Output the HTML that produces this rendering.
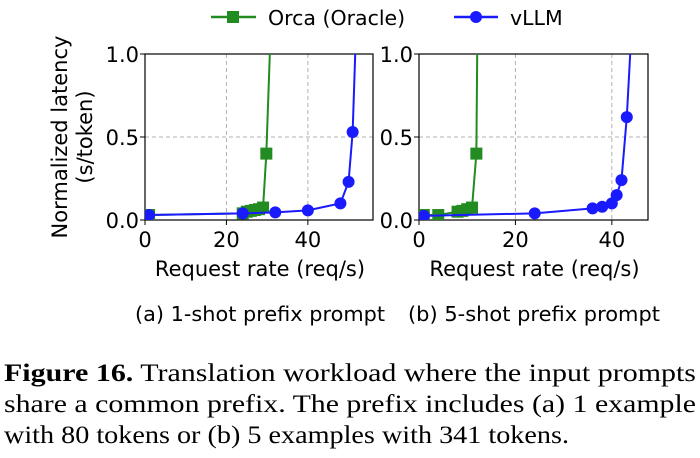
<!DOCTYPE html>
<html><head><meta charset="utf-8"><style>
html,body{margin:0;padding:0;background:#fff;}
svg{display:block;}
.t{font-family:"DejaVu Sans","Liberation Sans",sans-serif;fill:#000;}
.c{font-family:"Liberation Serif",serif;font-size:25px;fill:#000;}
</style></head><body>
<svg id="fig" width="700" height="458" viewBox="0 0 700 458">
<g>
  <g>
    <line x1="211" y1="17" x2="256" y2="17" stroke="#228B22" stroke-width="2.5"/>
    <rect x="227" y="11" width="12" height="12" fill="#228B22"/>
    <text class="t" x="268" y="25" font-size="20.5">Orca (Oracle)</text>
  </g>
  <g>
    <line x1="454" y1="17" x2="498" y2="17" stroke="#1a1aff" stroke-width="2.5"/>
    <circle cx="476" cy="17" r="6" fill="#1a1aff"/>
    <text class="t" x="510" y="25" font-size="20.5">vLLM</text>
  </g>
</g>
<g>
  <text class="t" font-size="21" text-anchor="middle" transform="translate(67,137) rotate(-90)">Normalized latency</text>
  <text class="t" font-size="21" text-anchor="middle" transform="translate(92,137) rotate(-90)">(s/token)</text>
</g>
<g id="pa"></g>
<g id="pb"></g>
<text class="t" x="135" y="321" font-size="20" textLength="250" lengthAdjust="spacingAndGlyphs">(a) 1-shot prefix prompt</text>
<text class="t" x="408" y="321" font-size="20" textLength="252" lengthAdjust="spacingAndGlyphs">(b) 5-shot prefix prompt</text>
<g>
  <text class="c" x="4" y="381" textLength="692" lengthAdjust="spacingAndGlyphs"><tspan font-weight="bold">Figure 16.</tspan> Translation workload where the input prompts</text>
  <text class="c" x="4" y="412" textLength="692" lengthAdjust="spacingAndGlyphs">share a common prefix. The prefix includes (a) 1 example</text>
  <text class="c" x="4" y="443" textLength="565" lengthAdjust="spacingAndGlyphs">with 80 tokens or (b) 5 examples with 341 tokens.</text>
</g>
</svg>
<script>
const xTicks = [0, 20, 40];
const yTicks = [0.0, 0.5, 1.0];
const yTickLabels = ["0.0", "0.5", "1.0"];
const orcaXA = [1, 24, 25, 26, 27, 28, 29, 29.8, 30.8];
const orcaYA = [0.03, 0.04, 0.05, 0.055, 0.06, 0.065, 0.075, 0.40, 1.1];
const vllmXA = [1, 24, 32, 40, 48, 50, 51, 51.7];
const vllmYA = [0.03, 0.04, 0.046, 0.058, 0.10, 0.23, 0.53, 1.05];
const orcaXB = [1, 4, 8, 9, 10, 11, 11.9, 12.1];
const orcaYB = [0.03, 0.03, 0.05, 0.055, 0.065, 0.075, 0.40, 1.1];
const vllmXB = [1, 24, 36, 38, 40, 41, 42, 43.1, 43.9];
const vllmYB = [0.025, 0.04, 0.07, 0.08, 0.10, 0.15, 0.24, 0.62, 1.05];
const NS = "http://www.w3.org/2000/svg";
function mk(tag, attrs, parent){const e=document.createElementNS(NS,tag);for(const k in attrs)e.setAttribute(k,attrs[k]);parent.appendChild(e);return e;}
function draw(g, id, left, right, xmax, ox, oy, vx, vy){
  const top=54, bottom=220;
  const X=v=>left+(v-0)/(xmax-0)*(right-left);
  const Y=v=>bottom-(v-0)/(1-0)*(bottom-top);
  const cp=mk('clipPath',{id:'clip'+id},g);
  mk('rect',{x:left,y:top,width:right-left,height:bottom-top},cp);
  xTicks.forEach(t=>{
    const l=mk('line',{x1:X(t),x2:X(t),y1:top,y2:bottom,stroke:'#b0b0b0','stroke-dasharray':'4,3','stroke-width':1},g);
    
    
    const tk=mk('line',{x1:X(t),x2:X(t),y1:bottom,y2:bottom+5,stroke:'#000'},g);
    
    
    const tx=mk('text',{x:X(t),y:bottom+27,'text-anchor':'middle','font-size':21,class:'t'},g);
    tx.textContent=t;
    
    
  });
  yTicks.forEach((t,i)=>{
    const l=mk('line',{x1:left,x2:right,y1:Y(t),y2:Y(t),stroke:'#b0b0b0','stroke-dasharray':'4,3','stroke-width':1},g);
    
    
    const tk=mk('line',{x1:left-5,x2:left,y1:Y(t),y2:Y(t),stroke:'#000'},g);
    
    
    const tx=mk('text',{x:left-6,y:Y(t)+8,'text-anchor':'end','font-size':21,class:'t'},g);
    tx.textContent=yTickLabels[i];
    
    
  });
  const fr=mk('rect',{x:left,y:top,width:right-left,height:bottom-top,fill:'none',stroke:'#000','stroke-width':1.2},g);
  
  
  const xl=mk('text',{x:(left+right)/2+1,y:bottom+56,'text-anchor':'middle','font-size':21,class:'t'},g);
  xl.textContent='Request rate (req/s)';
  
  
  const sg=mk('g',{'clip-path':'url(#clip'+id+')'},g);
  function series(xs,ys,color,shape,name){
    const pl=mk('polyline',{points:xs.map((x,i)=>X(x)+','+Y(ys[i])).join(' '),fill:'none',stroke:color,'stroke-width':2},sg);
    
    
    xs.forEach((x,i)=>{
      if(ys[i]>1) return;
      let m;
      if(shape==='sq') m=mk('rect',{x:X(x)-6,y:Y(ys[i])-6,width:12,height:12,fill:color},sg);
      else m=mk('circle',{cx:X(x),cy:Y(ys[i]),r:6,fill:color},sg);
      
      
    });
  }
  series(ox,oy,'#228B22','sq','orca');
  series(vx,vy,'#1a1aff','ci','vllm');
}
draw(document.getElementById('pa'),'a',145,373,56,orcaXA,orcaYA,vllmXA,vllmYA);
draw(document.getElementById('pb'),'b',419,648,47.5,orcaXB,orcaYB,vllmXB,vllmYB);
</script>
</body></html>
